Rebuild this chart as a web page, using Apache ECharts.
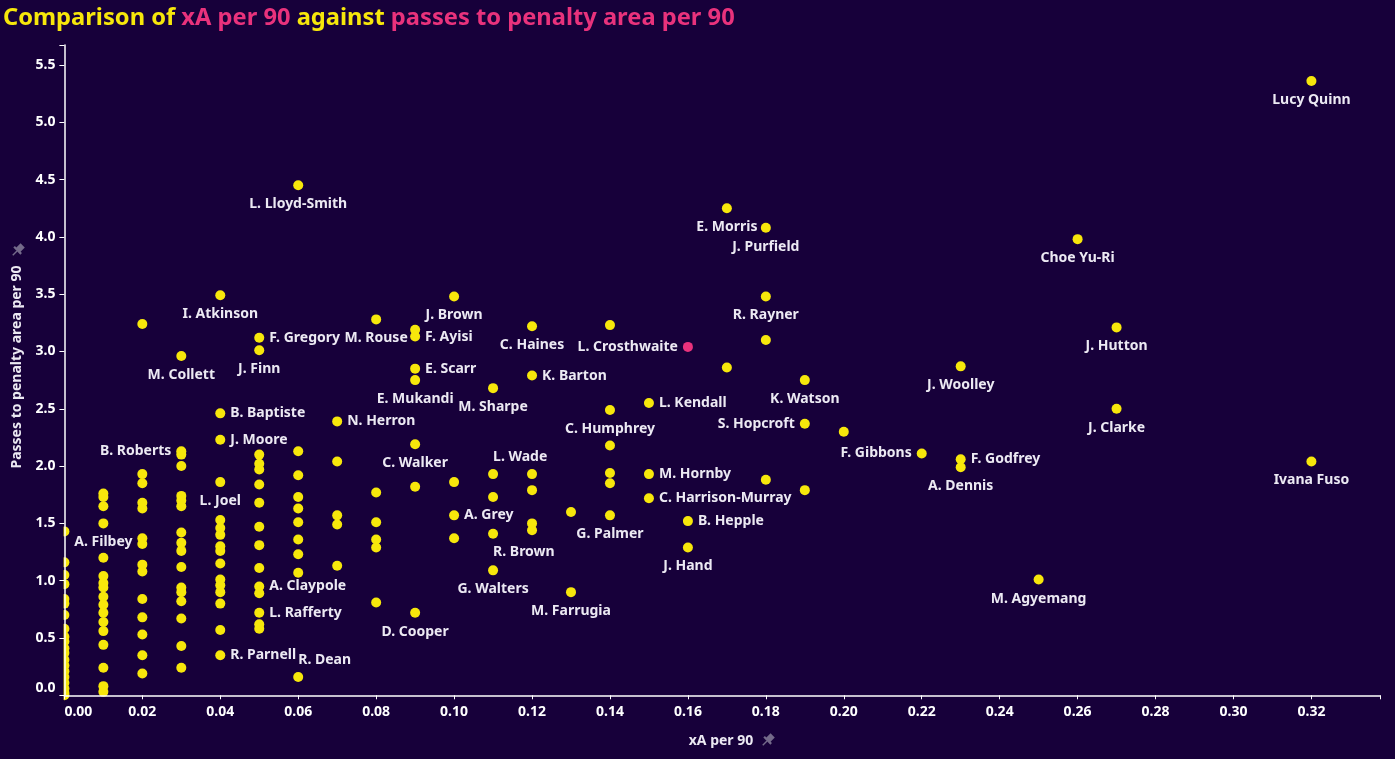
<!DOCTYPE html>
<html>
<head>
<meta charset="utf-8">
<script src="https://cdn.jsdelivr.net/npm/echarts@6/dist/echarts.min.js"></script>
<style>
html,body{margin:0;padding:0;background:#17003a;}
#c{width:1395px;height:759px;}
</style>
</head>
<body>
<div id="c"></div>
<script>
// ---------- DATA ----------
const labelledNames = [
  'Lucy Quinn','Ivana Fuso','Choe Yu-Ri','J. Hutton','J. Clarke','J. Woolley','F. Godfrey','A. Dennis',
  'F. Gibbons','M. Agyemang','E. Morris','J. Purfield','R. Rayner','K. Watson','S. Hopcroft',
  'L. Crosthwaite','L. Kendall','M. Hornby','C. Harrison-Murray','B. Hepple','J. Hand','C. Humphrey',
  'G. Palmer','M. Farrugia','C. Haines','K. Barton','M. Sharpe','L. Wade','R. Brown','G. Walters',
  'J. Brown','A. Grey','F. Ayisi','E. Scarr','E. Mukandi','C. Walker','D. Cooper','M. Rouse',
  'N. Herron','L. Lloyd-Smith','R. Dean','F. Gregory','J. Finn','A. Claypole','L. Rafferty',
  'I. Atkinson','B. Baptiste','J. Moore','L. Joel','R. Parnell','M. Collett','B. Roberts','A. Filbey'
];
const labelledXA = [
  0.32,0.32,0.26,0.27,0.27,0.23,0.23,0.23,
  0.22,0.25,0.17,0.18,0.18,0.19,0.19,
  0.16,0.15,0.15,0.15,0.16,0.16,0.14,
  0.14,0.13,0.12,0.12,0.11,0.11,0.11,0.11,
  0.10,0.10,0.09,0.09,0.09,0.09,0.09,0.08,
  0.07,0.06,0.06,0.05,0.05,0.05,0.05,
  0.04,0.04,0.04,0.04,0.04,0.03,0.03,0.01
];
const labelledPPA = [
  5.36,2.04,3.98,3.21,2.50,2.87,2.06,1.99,
  2.11,1.01,4.25,4.08,3.48,2.75,2.37,
  3.04,2.55,1.93,1.72,1.52,1.29,2.49,
  1.57,0.90,3.22,2.79,2.68,1.93,1.41,1.09,
  3.48,1.57,3.13,2.85,2.75,2.19,0.72,3.28,
  2.39,4.45,0.16,3.12,3.01,0.95,0.72,
  3.49,2.46,2.23,1.86,0.35,2.96,2.13,1.50
];
const otherXA = [
  0,0,0,0,0,0,0,0,0,0,0,0,0,0,0,0,0,0,0,0,
  0.01,0.01,0.01,0.01,0.01,0.01,0.01,0.01,0.01,0.01,0.01,0.01,0.01,0.01,0.01,0.01,
  0.02,0.02,0.02,0.02,0.02,0.02,0.02,0.02,0.02,0.02,0.02,0.02,0.02,0.02,
  0.03,0.03,0.03,0.03,0.03,0.03,0.03,0.03,0.03,0.03,0.03,0.03,0.03,0.03,0.03,
  0.04,0.04,0.04,0.04,0.04,0.04,0.04,0.04,0.04,0.04,0.04,
  0.05,0.05,0.05,0.05,0.05,0.05,0.05,0.05,0.05,0.05,0.05,
  0.06,0.06,0.06,0.06,0.06,0.06,0.06,0.06,
  0.07,0.07,0.07,0.07,
  0.08,0.08,0.08,0.08,0.08,
  0.09,0.09,
  0.10,0.10,
  0.11,
  0.12,0.12,0.12,0.12,
  0.13,
  0.14,0.14,0.14,0.14,
  0.17,
  0.18,0.18,
  0.19,
  0.20
];
const otherPPA = [
  1.43,1.16,1.05,0.97,0.84,0.80,0.70,0.58,0.51,0.47,0.41,0.37,0.31,0.26,0.21,0.16,0.11,0.06,0.02,0.00,
  1.76,1.73,1.65,1.20,1.04,0.98,0.94,0.86,0.79,0.72,0.64,0.56,0.44,0.24,0.08,0.03,
  3.24,1.93,1.85,1.68,1.63,1.37,1.32,1.14,1.08,0.84,0.68,0.53,0.35,0.19,
  2.10,2.00,1.74,1.70,1.65,1.42,1.33,1.26,1.12,0.94,0.90,0.82,0.67,0.43,0.24,
  1.53,1.46,1.40,1.30,1.26,1.15,1.01,0.96,0.90,0.80,0.57,
  2.10,2.02,1.97,1.84,1.68,1.47,1.31,1.11,0.89,0.62,0.58,
  2.13,1.92,1.73,1.63,1.51,1.36,1.23,1.07,
  2.04,1.57,1.49,1.13,
  1.77,1.51,1.36,1.29,0.81,
  3.19,1.82,
  1.86,1.37,
  1.73,
  1.93,1.79,1.50,1.44,
  1.60,
  3.23,2.18,1.94,1.85,
  2.86,
  3.10,1.88,
  1.79,
  2.30
];
const highlightedPlayer = 'L. Crosthwaite';
const xTickStep = 0.02;
const yTickStep = 0.5;

// ---------- STYLE ----------
const BG = '#17003a', YEL = '#f7e70b', PINK = '#e9327c', TXT = '#ece9f3', PINCOL = '#746a8a';
const FONT = '"Noto Sans", "Open Sans", sans-serif';
const labelPlacement = {
  'F. Godfrey':'right','F. Gibbons':'left','S. Hopcroft':'left','L. Crosthwaite':'left',
  'L. Kendall':'right','M. Hornby':'right','C. Harrison-Murray':'right','B. Hepple':'right',
  'K. Barton':'right','L. Wade':'topright','R. Brown':'bottomright','A. Grey':'right',
  'F. Ayisi':'right','E. Scarr':'right','N. Herron':'right','R. Dean':'topright',
  'F. Gregory':'right','A. Claypole':'right','L. Rafferty':'right','B. Baptiste':'right',
  'J. Moore':'right','R. Parnell':'right','B. Roberts':'left'
};

function labelFor(name) {
  const p = labelPlacement[name] || 'bottom';
  const base = {show: true, formatter: name, color: TXT, fontFamily: FONT, fontWeight: 'bold', fontSize: 14};
  if (p === 'topright') return Object.assign(base, {position: [5, -12], align: 'left', verticalAlign: 'middle'});
  if (p === 'bottomright') return Object.assign(base, {position: [5, 23], align: 'left', verticalAlign: 'middle'});
  return Object.assign(base, {position: p, distance: p === 'bottom' ? 7 : 5});
}

const points = [];
otherXA.forEach((x, i) => points.push({value: [x, otherPPA[i]], label: {show: false}}));
labelledNames.forEach((n, i) => {
  const item = {name: n, value: [labelledXA[i], labelledPPA[i]], label: labelFor(n)};
  if (n === highlightedPlayer) item.itemStyle = {color: PINK};
  points.push(item);
});

const isMult = (v, s) => Math.abs(v / s - Math.round(v / s)) < 1e-6;

function pin(x, y) {
  return {
    type: 'group', x: x, y: y, rotation: -Math.PI / 4, silent: true,
    children: [
      {type: 'rect', z: 30, shape: {x: -3, y: -8, width: 6, height: 7}, style: {fill: PINCOL}},
      {type: 'rect', z: 30, shape: {x: -5, y: -2, width: 10, height: 2.2}, style: {fill: PINCOL}},
      {type: 'line', z: 30, shape: {x1: 0, y1: 0, x2: 0, y2: 6}, style: {stroke: PINCOL, lineWidth: 1.4}}
    ]
  };
}

const chart = echarts.init(document.getElementById('c'));
chart.setOption({
  backgroundColor: BG,
  animation: false,
  title: {
    text: '{a|Comparison of }{b|xA per 90}{a| against }{b|passes to penalty area per 90}',
    left: 3, top: 6, padding: 0,
    textStyle: {
      rich: {
        a: {color: YEL, fontSize: 23.7, fontWeight: 'bold', fontFamily: FONT},
        b: {color: PINK, fontSize: 23.7, fontWeight: 'bold', fontFamily: FONT}
      }
    }
  },
  grid: {left: 64.4, right: 15, top: 45, bottom: 63.7},
  xAxis: {
    type: 'value', min: 0, max: 0.3376, interval: xTickStep, z: 10,
    splitLine: {show: false},
    axisLine: {lineStyle: {color: '#ffffff', width: 1.5}},
    axisTick: {length: 4, lineStyle: {color: '#ffffff'}},
    axisLabel: {
      color: '#ffffff', fontFamily: FONT, fontWeight: 'bold', fontSize: 14, margin: 10,
      alignMinLabel: 'left',
      formatter: v => isMult(v, xTickStep) ? v.toFixed(2) : ''
    }
  },
  yAxis: {
    type: 'value', min: 0, max: 5.674, interval: yTickStep, z: 10,
    splitLine: {show: false},
    axisLine: {show: true, lineStyle: {color: '#ffffff', width: 1.5}},
    axisTick: {show: true, length: 5, lineStyle: {color: '#ffffff'}},
    axisLabel: {
      color: '#ffffff', fontFamily: FONT, fontWeight: 'bold', fontSize: 14, margin: 9,
      verticalAlignMinLabel: 'bottom',
      formatter: v => isMult(v, yTickStep) ? v.toFixed(1) : ''
    }
  },
  series: [{
    type: 'scatter',
    symbol: 'circle',
    symbolSize: 10,
    itemStyle: {color: YEL, opacity: 1},
    emphasis: {disabled: true},
    data: points
  }],
  graphic: [
    {type: 'rect', shape: {x: 0, y: 42, width: 63.6, height: 660}, style: {fill: BG}, z: 5, silent: true},
    {type: 'text', x: 17, y: 367, rotation: Math.PI / 2, z: 20,
     style: {text: 'Passes to penalty area per 90', fill: TXT, font: 'bold 14px "Noto Sans"',
             align: 'center', verticalAlign: 'middle', textAlign: 'center', textVerticalAlign: 'middle'}},
    {type: 'text', x: 721, y: 741, z: 20,
     style: {text: 'xA per 90', fill: TXT, font: 'bold 14px "Noto Sans"',
             align: 'center', verticalAlign: 'middle', textAlign: 'center', textVerticalAlign: 'middle'}},
    pin(767, 741),
    pin(17, 251)
  ]
});
</script>
</body>
</html>
